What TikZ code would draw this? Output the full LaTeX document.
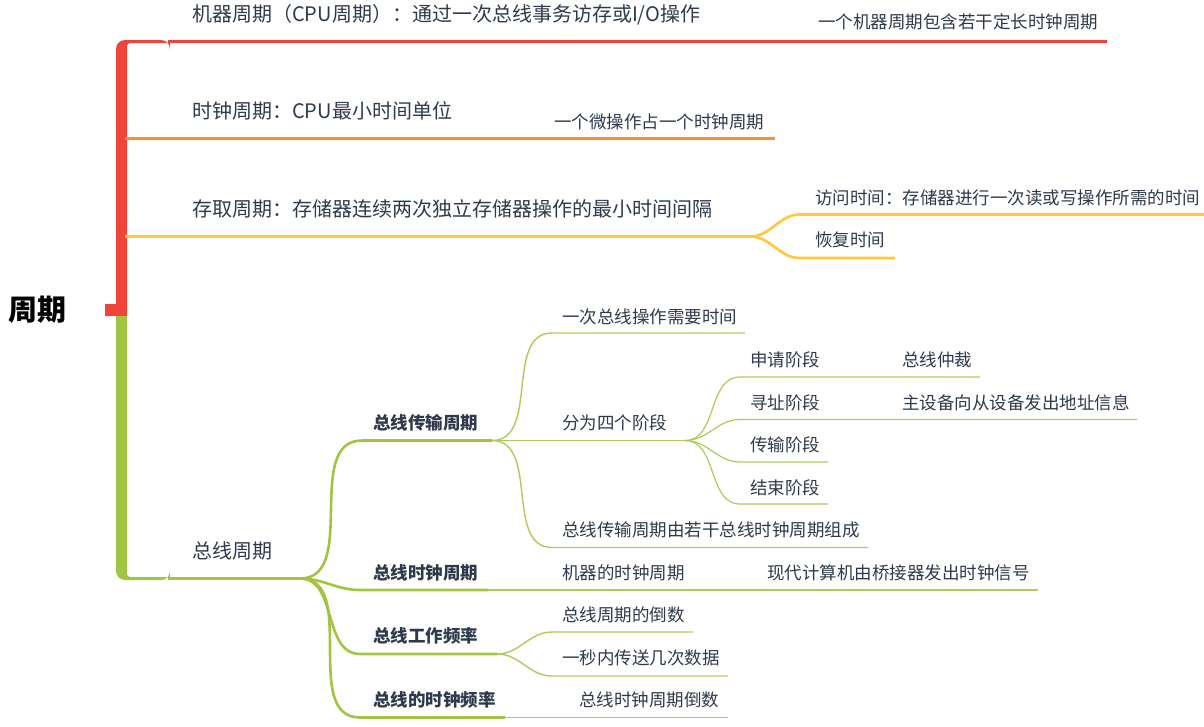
\documentclass[tikz,border=0pt]{standalone}
\usepackage{fontspec}
\setmainfont{Noto Sans CJK SC}
\usepackage{xcolor}
\usepackage{tikz}

\definecolor{cRed}{HTML}{F0433A}
\definecolor{cOrange}{HTML}{F7922F}
\definecolor{cYellow}{HTML}{FFC83D}
\definecolor{cGreen}{HTML}{A3C443}
\definecolor{cLeaf}{HTML}{ADCB5C}
\definecolor{ink}{HTML}{2E3A4C}

\begin{document}
\begin{tikzpicture}[x=1pt, y=-1pt,
    root/.style={font=\fontsize{29}{34}\selectfont\bfseries, text=black, inner sep=0pt},
    topic/.style={font=\fontsize{20}{24}\selectfont, text=ink, inner sep=0pt, anchor=west},
    leaf/.style={font=\fontsize{17.5}{21}\selectfont, text=ink, inner sep=0pt, anchor=west},
    keynode/.style={font=\fontsize{17.5}{21}\selectfont\bfseries, text=ink, inner sep=0pt, anchor=west},
    line/.style={draw, line width=3pt},
    bough/.style={draw, cGreen, line width=2.6pt},
    twig/.style={draw, cLeaf, line width=1.4pt},
    sbend/.style={out=0, in=180}]

    \useasboundingbox (0,0) rectangle (1204,726);

    % Root
    \node [root] (root) at (38,310) {周期};

    % Trunk
    \fill [cRed] (105,304) rectangle (127,316);
    \fill [cRed] (116,316) [rounded corners=9pt] -- (116,40) -- (170,40) [sharp corners] -- (170,43)
        [rounded corners=3pt] -- (127,43) [sharp corners] -- (127,316) -- cycle;
    \fill [cGreen] (116,316) [rounded corners=9pt] -- (116,580) -- (170,580) [sharp corners] -- (170,577)
        [rounded corners=3pt] -- (127,577) [sharp corners] -- (127,316) -- cycle;

    % Machine cycle
    \node [topic] (machine) at (192,15) {机器周期（CPU周期）：通过一次总线事务访存或I/O操作};
    \node [leaf] (machineA) at (818,22) {一个机器周期包含若干定长时钟周期};
    \coordinate (machineS) at (168,41.5);
    \coordinate (machineE) at (1107,41.5);
    \path [line, cRed] (machineS) -- (machineE);

    % Clock cycle
    \node [topic] (clock) at (192,111) {时钟周期：CPU最小时间单位};
    \node [leaf] (clockA) at (554,122) {一个微操作占一个时钟周期};
    \coordinate (clockS) at (125,138.5);
    \coordinate (clockE) at (775,138.5);
    \path [line, cOrange] (clockS) -- (clockE);

    % Access cycle
    \node [topic] (access) at (192,209) {存取周期：存储器连续两次独立存储器操作的最小时间间隔};
    \node [leaf] (accessA) at (815,198) {访问时间：存储器进行一次读或写操作所需的时间};
    \node [leaf] (accessB) at (815,240) {恢复时间};
    \coordinate (accessS) at (125,236.5);
    \coordinate (accessJ) at (750,236.5);
    \coordinate (accessA1) at (800,214.5);
    \coordinate (accessA2) at (1204,214.5);
    \coordinate (accessB1) at (800,258);
    \coordinate (accessB2) at (895,258);
    \path [line, cYellow] (accessS) -- (accessJ);
    \path [draw, cYellow, line width=2.6pt] (accessJ) to[sbend] (accessA1) -- (accessA2);
    \path [draw, cYellow, line width=2.6pt] (accessJ) to[sbend] (accessB1) -- (accessB2);

    % Bus cycle
    \node [topic] (bus) at (192,551) {总线周期};
    \coordinate (busS) at (168,578.5);
    \coordinate (busJ) at (300,578.5);
    \path [line, cGreen] (busS) -- (busJ);

    % Bus transfer cycle
    \node [keynode] (xfer) at (373,423) {总线传输周期};
    \coordinate (xferS) at (362,440.5);
    \coordinate (xferJ) at (492,440.5);
    \path [bough] (busJ) to[sbend] (xferS) -- (xferJ);

    \node [leaf] (xferA) at (562,317) {一次总线操作需要时间};
    \coordinate (xferA1) at (552,333);
    \coordinate (xferA2) at (745,333);
    \path [twig] (xferJ) to[sbend] (xferA1) -- (xferA2);

    \node [leaf] (phases) at (562,423) {分为四个阶段};
    \coordinate (phasesJ) at (685,440.5);
    \path [twig] (xferJ) -- (phasesJ);

    \node [leaf] (xferC) at (562,530) {总线传输周期由若干总线时钟周期组成};
    \coordinate (xferC1) at (552,547.5);
    \coordinate (xferC2) at (868,547.5);
    \path [twig] (xferJ) to[sbend] (xferC1) -- (xferC2);

    % Four phases
    \node [leaf] (request) at (750,360) {申请阶段};
    \node [leaf] (requestA) at (902,360) {总线仲裁};
    \node [leaf] (address) at (750,403) {寻址阶段};
    \node [leaf] (addressA) at (902,403) {主设备向从设备发出地址信息};
    \node [leaf] (transfer) at (750,445) {传输阶段};
    \node [leaf] (finish) at (750,488) {结束阶段};
    \coordinate (request1) at (740,377);   \coordinate (request2) at (980,377);
    \coordinate (address1) at (740,419.5); \coordinate (address2) at (1137,419.5);
    \coordinate (transfer1) at (740,462);  \coordinate (transfer2) at (828,462);
    \coordinate (finish1) at (740,504);    \coordinate (finish2) at (828,504);
    \foreach \p in {request,address,transfer,finish}
        \path [twig, line width=1.2pt] (phasesJ) to[sbend] (\p1) -- (\p2);

    % Bus clock cycle
    \node [keynode] (bclk) at (373,573) {总线时钟周期};
    \node [leaf] (bclkA) at (562,573) {机器的时钟周期};
    \node [leaf] (bclkB) at (767,573) {现代计算机由桥接器发出时钟信号};
    \coordinate (bclkS) at (360,590);
    \coordinate (bclkM) at (488,590);
    \coordinate (bclkE) at (1038,590);
    \path [bough] (busJ) to[sbend] (bclkS) -- (bclkM);
    \path [twig, line width=1.2pt] (bclkM) -- (bclkE);

    % Bus working frequency
    \node [keynode] (bfreq) at (373,636) {总线工作频率};
    \node [leaf] (bfreqA) at (562,615) {总线周期的倒数};
    \node [leaf] (bfreqB) at (562,658) {一秒内传送几次数据};
    \coordinate (bfreqS) at (360,654);
    \coordinate (bfreqJ) at (497,654);
    \coordinate (bfreqA1) at (552,632); \coordinate (bfreqA2) at (693,632);
    \coordinate (bfreqB1) at (552,676); \coordinate (bfreqB2) at (728,676);
    \path [bough] (busJ) to[sbend] (bfreqS) -- (bfreqJ);
    \path [twig] (bfreqJ) to[sbend] (bfreqA1) -- (bfreqA2);
    \path [twig] (bfreqJ) to[sbend] (bfreqB1) -- (bfreqB2);

    % Bus clock frequency
    \node [keynode] (cfreq) at (373,700) {总线的时钟频率};
    \node [leaf] (cfreqA) at (579,700) {总线时钟周期倒数};
    \coordinate (cfreqS) at (360,717.5);
    \coordinate (cfreqM) at (505,717.5);
    \coordinate (cfreqE) at (728,717.5);
    \path [bough] (busJ) to[sbend] (cfreqS) -- (cfreqM);
    \path [twig, line width=1.2pt] (cfreqM) -- (cfreqE);

\end{tikzpicture}
\end{document}
